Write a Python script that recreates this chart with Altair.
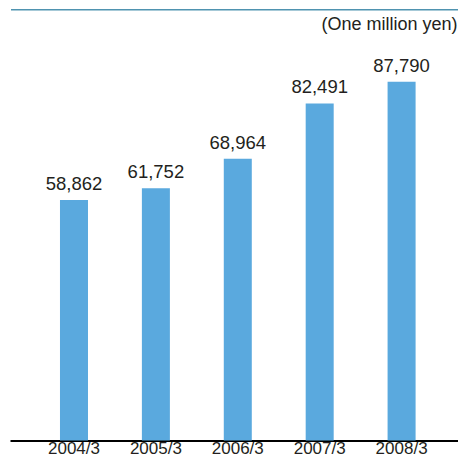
import altair as alt
import pandas as pd

categories = ["2004/3", "2005/3", "2006/3", "2007/3", "2008/3"]
values = [58862, 61752, 68964, 82491, 87790]
value_labels = ["58,862", "61,752", "68,964", "82,491", "87,790"]
unit_label = "(One million yen)"

df = pd.DataFrame({"period": categories, "value": values, "label": value_labels})
unit_df = pd.DataFrame({"t": [unit_label]})

FONT = "Liberation Sans"
TEXT = "#231f20"

x = alt.X(
    "period:N",
    sort=categories,
    scale=alt.Scale(paddingInner=0.658, paddingOuter=0.564, align=0.541),
    axis=alt.Axis(
        title=None,
        labelAngle=0,
        ticks=False,
        domainColor="#000000",
        domainWidth=2,
        labelFont=FONT,
        labelFontSize=17,
        labelColor=TEXT,
        labelPadding=0,
        grid=False,
    ),
)
y = alt.Y("value:Q", scale=alt.Scale(domain=[0, 105600], nice=False, zero=True), axis=None)

bars = alt.Chart(df).mark_bar(color="#5aa9de").encode(x=x, y=y)
labels = alt.Chart(df).mark_text(
    font=FONT, fontSize=18.5, color=TEXT, baseline="alphabetic", dy=-10
).encode(x=x, y=y, text="label:N")

top_rule = alt.Chart(unit_df).mark_rule(color="#4f93b0", strokeWidth=1.5).encode(
    x=alt.value(1), x2=alt.value(448), y=alt.value(0.75)
)
unit_text = alt.Chart(unit_df).mark_text(
    font=FONT, fontSize=18, color=TEXT, align="right", baseline="alphabetic"
).encode(x=alt.value(447.5), y=alt.value(20.5), text="t:N")

chart = (
    alt.layer(bars, labels, top_rule, unit_text)
    .properties(
        width=448,
        height=431.5,
        autosize=alt.AutoSizeParams(type="none"),
        padding={"left": 2, "top": 1, "right": 0, "bottom": 16.5},
    )
    .configure_view(stroke=None)
)

chart.save("out.html", embed_options={"renderer": "svg", "actions": False})
